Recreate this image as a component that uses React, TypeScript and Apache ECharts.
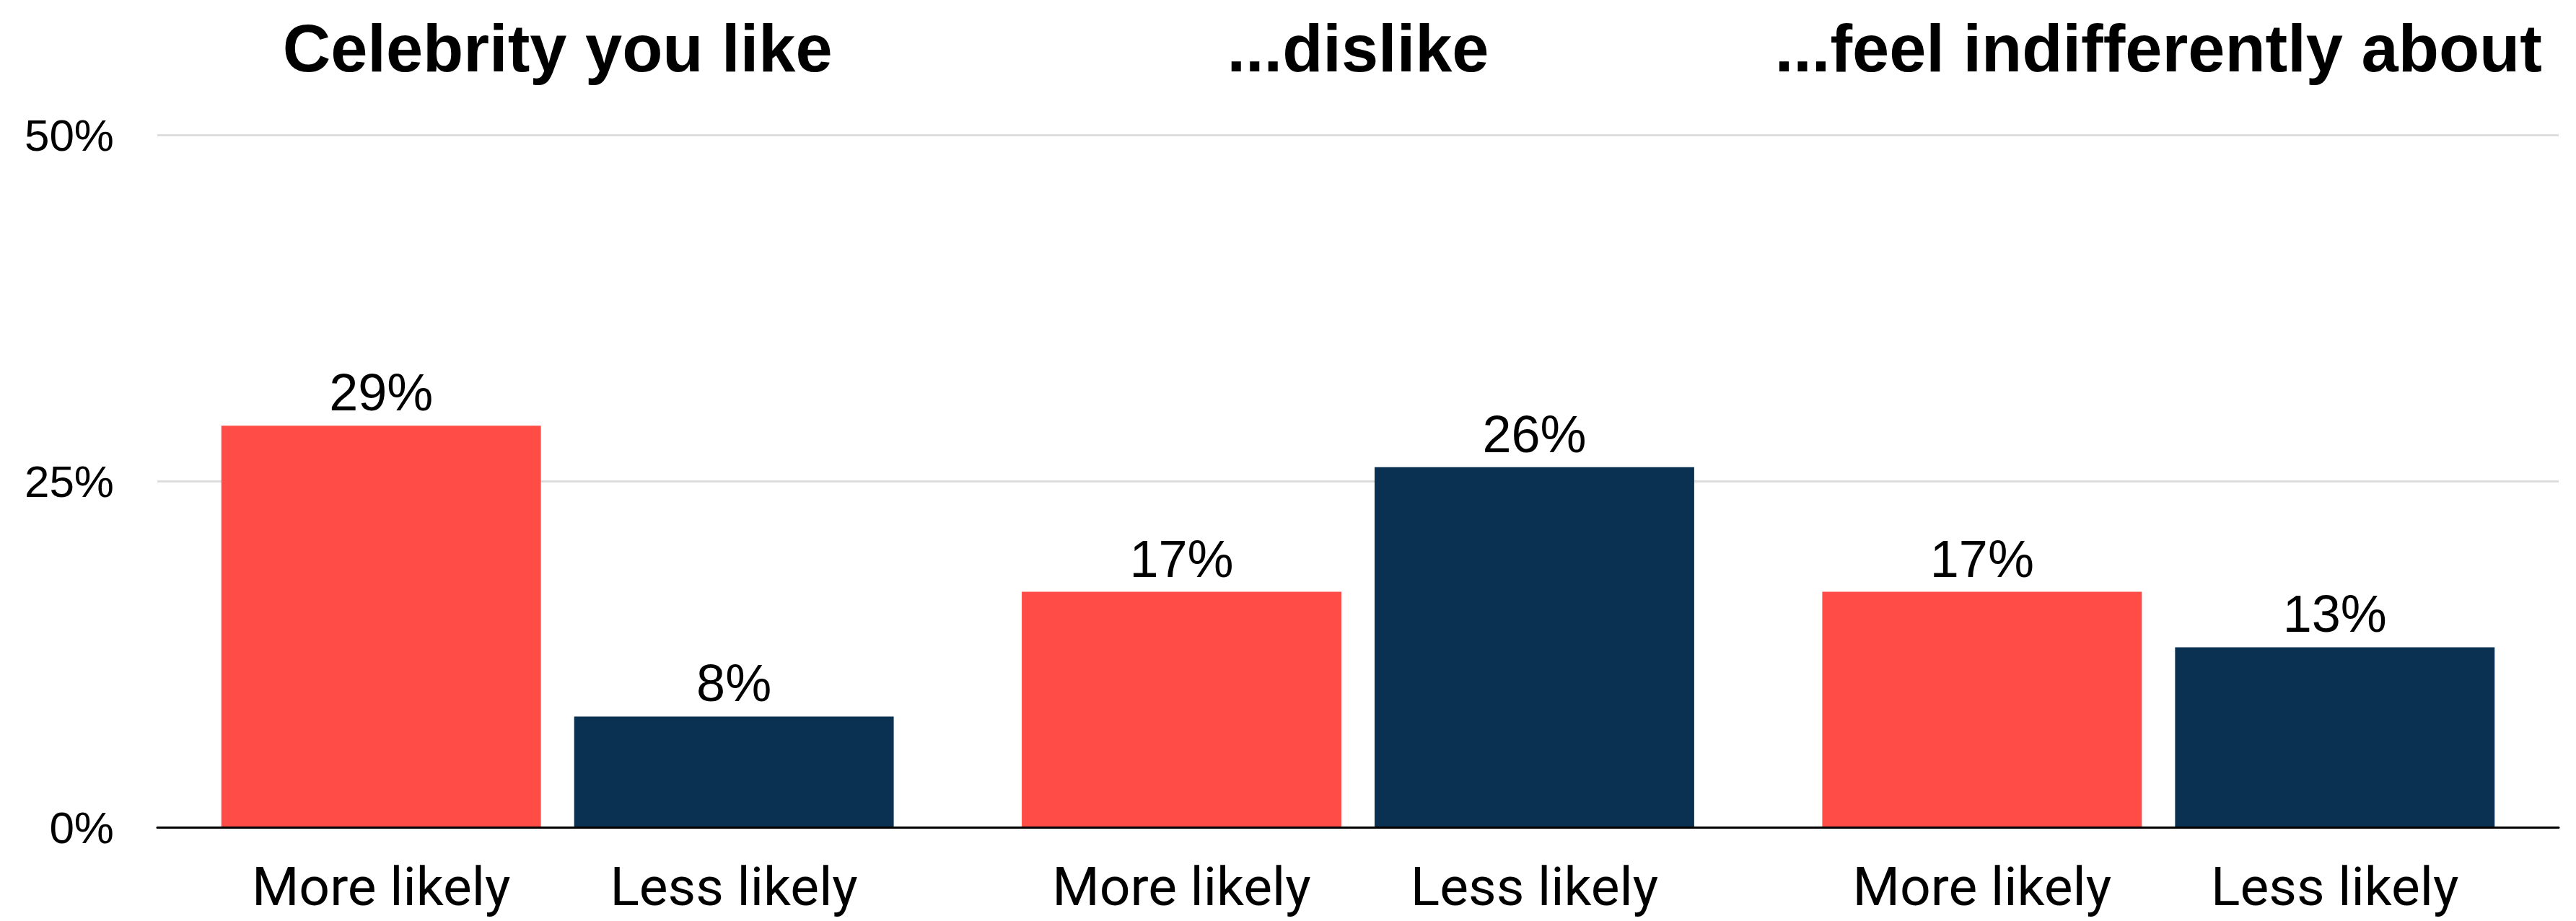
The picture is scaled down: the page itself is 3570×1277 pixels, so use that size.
import React, { useEffect, useRef } from "react";
import * as echarts from "echarts";

const groupTitles = ["Celebrity you like", "...dislike", "...feel indifferently about"];
const seriesNames = ["More likely", "Less likely"];
const moreLikely = [29, 17, 17];
const lessLikely = [8, 26, 13];
const yMin = 0;
const yMax = 50;
const yInterval = 25;

const RED = "#ff4c46";
const NAVY = "#0a3152";

export default function App() {
  const ref = useRef<HTMLDivElement>(null);

  useEffect(() => {
    document.body.style.margin = "0";
    if (!ref.current) return;
    const chart = echarts.init(ref.current, null, { renderer: "svg" });

    const barLayout = {
      barCategoryGap: "16%",
      barGap: "10.4%",
    };

    const valueSeries = (name: string, data: number[], color: string) => ({
      type: "bar",
      name,
      xAxisIndex: 0,
      yAxisIndex: 0,
      data,
      ...barLayout,
      itemStyle: { color },
      label: {
        show: true,
        position: "top",
        distance: 10,
        formatter: (p: any) => `${p.value}%`,
        fontFamily: "Liberation Sans",
        fontSize: 72,
        color: "#000",
      },
      z: 3,
    });

    const nameSeries = (name: string, data: number[]) => ({
      type: "bar",
      name: name + " label",
      xAxisIndex: 1,
      yAxisIndex: 0,
      data,
      ...barLayout,
      itemStyle: { color: "rgba(0,0,0,0)" },
      label: {
        show: true,
        position: "bottom",
        distance: 40,
        formatter: () => name,
        fontFamily: "Roboto",
        fontSize: 75,
        lineHeight: 84,
        color: "#000",
      },
      silent: true,
      z: 1,
    });

    chart.setOption({
      animation: false,
      backgroundColor: "#ffffff",
      grid: { left: 218, right: 24, top: 187, bottom: 130, containLabel: false },
      xAxis: [
        {
          type: "category",
          data: groupTitles,
          position: "bottom",
          axisLine: { show: true, lineStyle: { color: "#000", width: 3 } },
          axisTick: { show: false },
          axisLabel: { show: false },
          z: 10,
        },
        {
          type: "category",
          data: groupTitles,
          position: "top",
          axisLine: { show: false },
          axisTick: { show: false },
          axisLabel: {
            show: true,
            margin: 74,
            fontFamily: "Liberation Sans",
            fontWeight: "bold",
            fontSize: 92,
            color: "#000",
            interval: 0,
          },
        },
      ],
      yAxis: {
        type: "value",
        min: yMin,
        max: yMax,
        interval: yInterval,
        axisLine: { show: false },
        axisTick: { show: false },
        axisLabel: {
          formatter: "{value}%",
          margin: 60,
          fontFamily: "Liberation Sans",
          fontSize: 62,
          color: "#000",
        },
        splitLine: { lineStyle: { color: "#dddddd", width: 3 } },
      },
      series: [
        valueSeries(seriesNames[0], moreLikely, RED),
        valueSeries(seriesNames[1], lessLikely, NAVY),
        nameSeries(seriesNames[0], moreLikely),
        nameSeries(seriesNames[1], lessLikely),
      ],
    });

    return () => chart.dispose();
  }, []);

  return <div ref={ref} style={{ width: 3570, height: 1277 }} />;
}
